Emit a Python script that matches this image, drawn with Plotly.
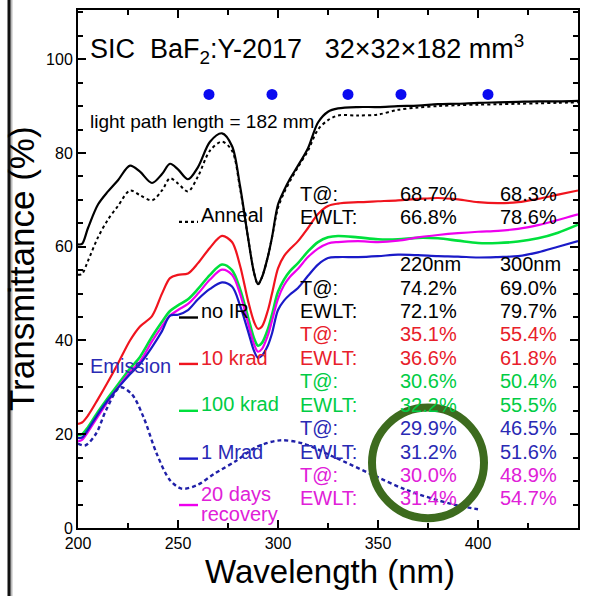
import plotly.graph_objects as go

# ---- spectra (wavelength in nm, transmittance in %) ----
wavelength = [200, 202, 205, 210, 215, 220, 226, 231, 237, 242, 246, 250, 255, 260,
              266, 272, 277, 281, 285, 288, 290, 292, 295, 297, 300, 303, 306, 310,
              315, 320, 325, 330, 340, 350, 360, 370, 380, 390, 400, 410, 420, 430,
              440, 450]

t_no_ir = [60.5, 60.6, 64, 69, 71.8, 74.2, 77.3, 76, 73.6, 75.5, 77.7, 76.5, 74.4, 77,
           82.4, 84.2, 81.5, 73, 62, 54.5, 52, 53.5, 58, 62, 69.0, 72, 74.5, 77.3,
           81, 86.5, 88.8, 89.5, 89.8, 89.8, 90, 90.1, 90.4, 90.5, 90.7, 90.8, 90.9, 91,
           91, 91.1]

t_anneal = [54, 54.2, 57, 62, 65.8, 68.7, 72, 71, 69.9, 72, 74.6, 73.5, 71.8, 75,
            80.5, 82.4, 80.5, 72.5, 62, 54.5, 52, 53.5, 58, 62, 68.3, 71.5, 74, 77,
            80.5, 85, 87, 88, 88, 88.2, 89.2, 89.7, 90, 90.2, 90.3, 90.4, 90.5, 90.6,
            90.7, 90.8]

t_10krad = [22.2, 22.5, 24, 27.5, 31.2, 35.1, 40, 43, 45.2, 50, 53.3, 54, 54.3, 56.5,
            59.8, 62.3, 61, 56, 48.5, 44, 42.5, 43, 46.5, 50, 55.4, 58, 59.5, 61.2,
            64, 67, 68.7, 69.2, 69.5, 69.7, 69.9, 70.2, 70.4, 70.1, 69.5, 69.3, 69.5, 70.2,
            71.1, 72]

t_100krad = [19.8, 20, 21.5, 24.8, 27.8, 30.6, 34, 36.5, 40.8, 44, 46.3, 47.5, 48.8, 51,
             54, 56.2, 55, 51, 45, 40.5, 38.9, 39.5, 42.5, 45.5, 50.4, 53, 54.8, 56.5,
             59, 61, 62, 62.3, 62, 61.6, 61.6, 61.9, 61.8, 61.3, 60.8, 60.8, 61.1, 61.8,
             63, 64.7]

t_1mrad = [19.2, 19.3, 21, 24.3, 27.3, 29.9, 32.8, 35, 38.6, 42, 45.3, 45.5, 46.5, 48.8,
           51, 52.4, 51.5, 47.5, 42, 37.8, 36.3, 36.8, 39, 41.5, 46.5, 48.5, 49.8, 51.2,
           53.8, 56.2, 57.6, 57.8, 57.8, 58, 58.3, 58.2, 58, 57.9, 57.7, 57.8, 58, 58.8,
           60, 61.2]

t_recovery = [18.5, 18.8, 20.5, 23.8, 27, 30.0, 33.3, 35.5, 39.8, 43, 45.3, 46.5, 47.8, 50,
              53, 55.1, 54, 50, 43.8, 39.2, 37.6, 38.2, 41.2, 44.2, 48.9, 51.8, 53.6, 55.3,
              57.8, 59.6, 60.7, 61, 61.2, 61, 61.3, 62, 62.5, 62.9, 63.2, 63.4, 63.8, 64.6,
              65.7, 66.9]

# emission spectrum (arbitrary units on the same scale)
em_wavelength = [200, 203.5, 209, 214, 221, 226.8, 232.7, 239.3, 246, 251.8, 259.3, 268.3,
                 279.3, 289.3, 301, 312.7, 327.7, 346, 364.3, 386, 400]
em_intensity = [18.0, 17.6, 20.1, 25.1, 30.0, 28.6, 23.7, 15.9, 10.2, 8.4, 9.1, 11.6,
                14.4, 17.3, 18.7, 18.0, 15.2, 11.6, 8.1, 5.2, 4.0]

# emission peak markers
peak_wavelength = [265.5, 297, 335, 361.5, 405]
peak_level = [92.5, 92.5, 92.5, 92.5, 92.5]

# ---- transmittance table: T@ and EWLT at 220 nm / 300 nm ----
states = ["Anneal", "no IR", "10 krad", "100 krad", "1 Mrad", "20 days<br>recovery"]
t_at_220 = [68.7, 74.2, 35.1, 30.6, 29.9, 30.0]
t_at_300 = [68.3, 69.0, 55.4, 50.4, 46.5, 48.9]
ewlt_220 = [66.8, 72.1, 36.6, 32.2, 31.2, 31.4]
ewlt_300 = [78.6, 79.7, 61.8, 55.5, 51.6, 54.7]
col_headers = ["220nm", "300nm"]

# ---- styling ----
FONT = "Liberation Sans, Arial, sans-serif"
BLACK = "#000000"
RED_L, RED_T = "#f0141e", "#e8202a"
GRN_L, GRN_T = "#00e03c", "#00cc44"
BLU_L, BLU_T = "#1a1ac8", "#2a2ab4"
MAG_L, MAG_T = "#ee00ee", "#e020d8"
EM_COL = "#2020a8"
DOT_COL = "#0a0af0"
CIRCLE_COL = "#3d6b1e"

fig = go.Figure()

series = [
    (t_anneal, BLACK, 2.0, "3px,3px"),
    (t_no_ir, BLACK, 2.2, "solid"),
    (t_10krad, RED_L, 2.2, "solid"),
    (t_100krad, GRN_L, 2.6, "solid"),
    (t_recovery, MAG_L, 2.2, "solid"),
    (t_1mrad, BLU_L, 2.2, "solid"),
]
for vals, col, w, dash in series:
    fig.add_trace(go.Scatter(x=wavelength, y=vals, mode="lines",
                             line=dict(color=col, width=w, dash=dash,
                                       shape="spline", smoothing=0.9),
                             hoverinfo="skip", showlegend=False))

fig.add_trace(go.Scatter(x=em_wavelength, y=em_intensity, mode="lines",
                         line=dict(color=EM_COL, width=2.4, dash="4px,3px",
                                   shape="spline", smoothing=0.9),
                         hoverinfo="skip", showlegend=False))

fig.add_trace(go.Scatter(x=peak_wavelength, y=peak_level, mode="markers",
                         marker=dict(color=DOT_COL, size=11),
                         hoverinfo="skip", showlegend=False))

annotations = []
shapes = []


def txt(x, y, s, color=BLACK, size=20, xanchor="left", xref="x", yref="y", angle=0):
    annotations.append(dict(x=x, y=y, xref=xref, yref=yref, text=s, showarrow=False,
                            xanchor=xanchor, yanchor="middle", textangle=angle,
                            align="left",
                            font=dict(family=FONT, size=size, color=color)))


# title and path-length note
txt(205, 102.2, "SIC\u00a0\u00a0BaF<sub>2</sub>:Y-2017\u00a0\u00a0\u00a032×32×182 mm<sup>3</sup>",
    size=27)
txt(205, 86.7, "light path length = 182 mm", size=19)
txt(205, 34.6, "Emission", color=BLU_T, size=20)

# table layout
label_x, col1_x, col2_x = 310, 360, 410
state_colors = [BLACK, BLACK, RED_T, GRN_T, BLU_T, MAG_T]
row_y = [71.3, 66.3, 51.3, 46.3, 41.3, 36.3, 31.3, 26.3, 21.3, 16.3, 11.3, 6.3]
header_y = 56.3
txt(col1_x, header_y, col_headers[0])
txt(col2_x, header_y, col_headers[1])
for i, col in enumerate(state_colors):
    y_t, y_e = row_y[2 * i], row_y[2 * i + 1]
    txt(label_x, y_t, "T@:", col)
    txt(col1_x, y_t, f"{t_at_220[i]:.1f}%", col)
    txt(col2_x, y_t, f"{t_at_300[i]:.1f}%", col)
    txt(label_x, y_e, "EWLT:", col)
    txt(col1_x, y_e, f"{ewlt_220[i]:.1f}%", col)
    txt(col2_x, y_e, f"{ewlt_300[i]:.1f}%", col)

# legend keys beside the table rows (multi-line names stacked tightly)
key_x0, key_x1, key_text_x = 250.5, 260, 260.5
key_text_y = [66.8, 46.3, 36.3, 26.4, 16.2, 7.3]
key_line_gap = 4.3
key_line_y = [65.3, 44.9, 35.0, 25.0, 14.8, 4.9]
key_line_col = [BLACK, BLACK, RED_L, GRN_L, BLU_L, MAG_L]
key_text_col = [BLACK, BLACK, RED_T, GRN_T, BLU_T, MAG_T]
for i, name in enumerate(states):
    dash = "dot" if i == 0 else "solid"
    shapes.append(dict(type="line", xref="x", yref="y", x0=key_x0, x1=key_x1,
                       y0=key_line_y[i], y1=key_line_y[i],
                       line=dict(color=key_line_col[i], width=2.4, dash=dash)))
    for j, part in enumerate(name.split("<br>")):
        txt(key_text_x, key_text_y[i] - j * key_line_gap, part, key_text_col[i])

# highlight ring
ring_cx, ring_cy, ring_rx, ring_ry = 375, 13.9, 28, 11.8
shapes.append(dict(type="circle", xref="x", yref="y",
                   x0=ring_cx - ring_rx, x1=ring_cx + ring_rx,
                   y0=ring_cy - ring_ry, y1=ring_cy + ring_ry,
                   line=dict(color=CIRCLE_COL, width=8)))

# axis titles
txt(-0.114, 0.5, "Transmittance (%)", size=35, xref="paper", yref="paper", xanchor="center",
    angle=-90)
txt(0.504, -0.084, "Wavelength (nm)", size=33, xref="paper", yref="paper", xanchor="center")

# slide frame edge on the left
shapes.append(dict(type="line", xref="paper", yref="paper", x0=-0.134, x1=-0.134,
                   y0=-0.2, y1=1.1, line=dict(color="#bbbbbb", width=3)))
shapes.append(dict(type="line", xref="paper", yref="paper", x0=-0.138, x1=-0.138,
                   y0=-0.2, y1=1.1, line=dict(color="#111111", width=3)))

axis_common = dict(showgrid=False, zeroline=False, showline=True, linecolor=BLACK,
                   linewidth=2, mirror="ticks", ticks="inside", ticklen=8,
                   tickwidth=1.5, tickcolor=BLACK,
                   tickfont=dict(family=FONT, size=16, color=BLACK))

fig.update_layout(
    width=590, height=596, autosize=False,
    margin=dict(l=78, r=12, t=8, b=68, pad=0),
    paper_bgcolor="white", plot_bgcolor="white",
    showlegend=False,
    xaxis=dict(range=[200, 450], tick0=200, dtick=50,
               minor=dict(dtick=25, tick0=200, ticks="inside", ticklen=5,
                          tickwidth=1.5, tickcolor=BLACK),
               **axis_common),
    yaxis=dict(range=[0, 110.5], tick0=0, dtick=20,
               minor=dict(dtick=5, tick0=0, ticks="inside", ticklen=5,
                          tickwidth=1.5, tickcolor=BLACK),
               **axis_common),
    annotations=annotations,
    shapes=shapes,
)

fig.write_html("out.html")
